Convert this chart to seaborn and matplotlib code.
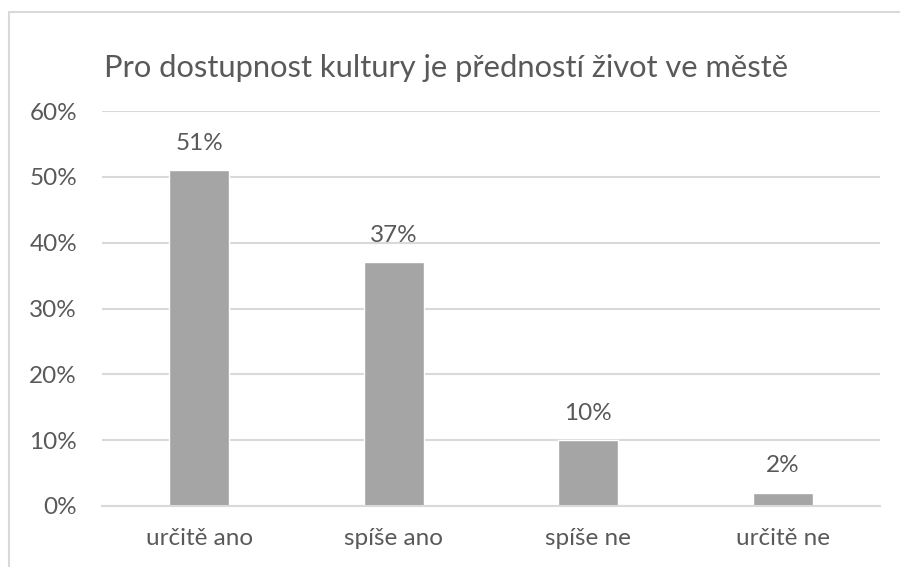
import matplotlib
matplotlib.use("Agg")
import matplotlib.pyplot as plt
import seaborn as sns
import pandas as pd
from matplotlib.patches import Rectangle

# Data
categories = ["určitě ano", "spíše ano", "spíše ne", "určitě ne"]
values = [51, 37, 10, 2]
title = "Pro dostupnost kultury je předností život ve městě"

df = pd.DataFrame({"kategorie": categories, "podil": values})

sns.set_theme(style="white")
plt.rcParams["font.family"] = ["Lato", "DejaVu Sans"]

text_col = "#595959"
grid_col = "#D9D9D9"
bar_col = "#A5A5A5"

fig = plt.figure(figsize=(9, 5.67), dpi=100)
ax = fig.add_axes([102 / 900, 1 - 506 / 567, 778 / 900, (506 - 111) / 567])

sns.barplot(data=df, x="kategorie", y="podil", color=bar_col, width=0.31,
            saturation=1, ax=ax)

ax.set_ylim(0, 60)
ax.set_yticks(range(0, 61, 10))
ax.set_yticklabels([f"{t}%" for t in range(0, 61, 10)])
ax.set_xlim(-0.5, len(categories) - 0.5)
ax.yaxis.grid(True, color=grid_col, linewidth=1.5)
ax.set_axisbelow(True)
for s in ["top", "right", "left"]:
    ax.spines[s].set_visible(False)
ax.spines["bottom"].set_color(grid_col)
ax.spines["bottom"].set_linewidth(1.5)
ax.tick_params(axis="both", length=0, labelsize=17.5, colors=text_col)
ax.tick_params(axis="x", pad=16)
ax.tick_params(axis="y", pad=18)
ax.set_xlabel("")
ax.set_ylabel("")

for cont in ax.containers:
    ax.bar_label(cont, labels=[f"{v}%" for v in values], padding=12,
                 fontsize=17.5, color=text_col)

fig.text(104 / 900, 1 - 68 / 567, title, fontsize=22.2, color=text_col,
         va="center", ha="left")

# chart border
fig.patches.append(Rectangle((9 / 900, -0.1), 1.2, 1 - 12 / 567 + 0.1,
                             transform=fig.transFigure, fill=False,
                             edgecolor="#D9D9D9", linewidth=1.5))

fig.savefig("out.png", dpi=100, facecolor="white")
